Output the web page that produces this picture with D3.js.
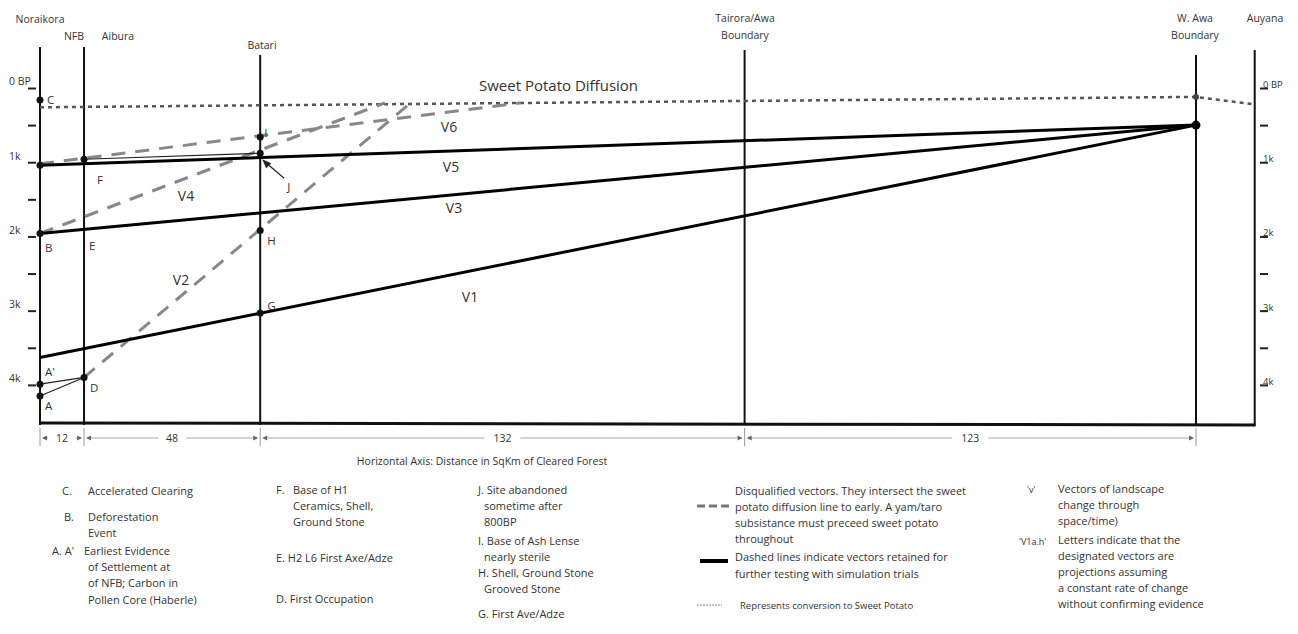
<!DOCTYPE html>
<html>
<head>
<meta charset="utf-8">
<script src="https://cdn.jsdelivr.net/npm/d3@7"></script>
<style>
body { margin: 0; background: #fff; }
text { font-family: "Open Sans", "Noto Sans", sans-serif; fill: #333; }
</style>
</head>
<body>
<div id="chart"></div>
<script>
// sites along the horizontal axis (distance in sq km of cleared forest)
var siteNames = ["Noraikora", "NFB", "Batari", "Tairora/Awa", "W. Awa", "Auyana"];
var siteDistance = [0, 12, 60, 192, 315, 331];
var segmentLengths = [12, 48, 132, 123];

// vertical axis, years BP
var yearTicks = [0, 500, 1000, 1500, 2000, 2500, 3000, 3500, 4000];
var yearTickLabels = ["0 BP", "", "1k", "", "2k", "", "3k", "", "4k"];
var rightTicks = [0, 500, 1000, 2000, 2500, 3000, 3500, 4000];
var rightTickLabels = ["0 BP", "", "1k", "2k", "", "3k", "", "4k"];

// retained vectors: start at Noraikora, all converge at W. Awa 500 BP
var vectorNames = ["V1", "V3", "V5"];
var vectorStartBP = [3630, 1960, 1040];
var convergence = [315, 500];

// disqualified vectors [distance, BP]
var dqNames = ["V2", "V4", "V6"];
var dqFrom = [[12, 3900], [0, 1960], [0, 1020]];
var dqTo = [[101, 200], [94, 200], [131, 200]];

// sweet potato diffusion
var diffusionDistance = [0, 315, 331];
var diffusionBP = [260, 120, 220];

// events
var eventNames = ["C", "", "B", "A'", "A", "F", "E", "D", "I", "J", "H", "G"];
var eventDistance = [0, 0, 0, 0, 0, 12, 12, 12, 60, 60, 60, 60];
var eventBP = [160, 1040, 1960, 3990, 4150, 960, 1940, 3900, 660, 880, 1920, 3030];
var undotted = ["E"];
var thinLinks = [["A'", "D"], ["A", "D"], ["F", "J"]];

var width = 1298, height = 634;

var svg = d3.select("#chart").append("svg")
    .attr("width", width)
    .attr("height", height);

var xScale = d3.scaleLinear().domain([0, 315]).range([40, 1196]);
var yScale = d3.scaleLinear().domain([0, 4500]).range([88, 422]);

var lineTop = [47, 47, 55, 50, 55, 50];
var baseY = 425;

// site lines
svg.selectAll(".site")
    .data(siteDistance)
    .enter().append("line")
    .attr("x1", function(d) { return xScale(d); })
    .attr("x2", function(d) { return xScale(d); })
    .attr("y1", function(d, i) { return lineTop[i]; })
    .attr("y2", baseY)
    .attr("stroke", "#111")
    .attr("stroke-width", 2);

// bottom baseline
svg.append("line")
    .attr("x1", xScale(0)).attr("x2", xScale(siteDistance[5]) + 1)
    .attr("y1", yScale(4500) + 1).attr("y2", yScale(4500) + 3)
    .attr("stroke", "#111").attr("stroke-width", 3);

// site labels
var siteLabels = [
    { t: ["Noraikora"], x: 40, y: 23 },
    { t: ["NFB"], x: 74, y: 40 },
    { t: ["Aibura"], x: 118, y: 40 },
    { t: ["Batari"], x: 262, y: 49 },
    { t: ["Tairora/Awa", "Boundary"], x: 745, y: 22 },
    { t: ["W. Awa", "Boundary"], x: 1195, y: 22 },
    { t: ["Auyana"], x: 1265, y: 22 }
];
siteLabels.forEach(function(s) {
    s.t.forEach(function(line, k) {
        svg.append("text")
            .attr("x", s.x).attr("y", s.y + k * 17)
            .attr("text-anchor", "middle")
            .style("font-size", "10.5px")
            .text(line);
    });
});

// left axis
var leftAxis = d3.axisLeft(yScale)
    .tickValues(yearTicks)
    .tickSize(8)
    .tickFormat(function(d, i) { return yearTickLabels[i]; });
svg.append("g")
    .attr("transform", "translate(36,0)")
    .call(leftAxis)
    .call(function(g) { g.select(".domain").remove(); })
    .call(function(g) {
        g.selectAll("line").attr("stroke", "#222").attr("stroke-width", 2);
        g.selectAll("text")
            .attr("text-anchor", "start")
            .attr("x", -27)
            .attr("dy", "-0.3em")
            .style("font-size", "10.5px")
            .style("font-family", "'Open Sans', sans-serif")
            .attr("fill", "#333");
    });

// right axis (Auyana)
var rightAxis = d3.axisRight(yScale)
    .tickValues(rightTicks)
    .tickSize(8)
    .tickFormat(function(d, i) { return rightTickLabels[i]; });
svg.append("g")
    .attr("transform", "translate(1260,0)")
    .call(rightAxis)
    .call(function(g) { g.select(".domain").remove(); })
    .call(function(g) {
        g.selectAll("line").attr("stroke", "#222").attr("stroke-width", 2);
        g.selectAll("text")
            .attr("x", 3)
            .attr("dy", "-0.05em")
            .style("font-size", "9.5px")
            .style("font-family", "'Open Sans', sans-serif")
            .attr("fill", "#444");
    });

// sweet potato diffusion (dotted)
var diffLine = d3.line()
    .x(function(d) { return xScale(d[0]); })
    .y(function(d) { return yScale(d[1]); });
svg.append("path")
    .datum(diffusionDistance.map(function(d, i) { return [d, diffusionBP[i]]; }))
    .attr("d", diffLine)
    .attr("fill", "none")
    .attr("stroke", "#555")
    .attr("stroke-width", 2.5)
    .attr("stroke-dasharray", "4,4");

svg.append("text")
    .attr("x", 479).attr("y", 91)
    .style("font-size", "15px")
    .attr("fill", "#222")
    .text("Sweet Potato Diffusion");

// disqualified vectors
dqNames.forEach(function(n, i) {
    svg.append("line")
        .attr("x1", xScale(dqFrom[i][0])).attr("y1", yScale(dqFrom[i][1]))
        .attr("x2", xScale(dqTo[i][0])).attr("y2", yScale(dqTo[i][1]))
        .attr("stroke", "#888")
        .attr("stroke-width", 3)
        .attr("stroke-dasharray", "14,10");
});

// retained vectors
vectorNames.forEach(function(n, i) {
    svg.append("line")
        .attr("x1", xScale(0)).attr("y1", yScale(vectorStartBP[i]))
        .attr("x2", xScale(convergence[0])).attr("y2", yScale(convergence[1]))
        .attr("stroke", "#000")
        .attr("stroke-width", 3);
});

// vector labels
var vLabelPos = { V1: [470, 302], V2: [181, 285], V3: [454, 213], V4: [186, 201], V5: [451, 172], V6: [449, 132] };
Object.keys(vLabelPos).forEach(function(k) {
    svg.append("text")
        .attr("x", vLabelPos[k][0]).attr("y", vLabelPos[k][1])
        .attr("text-anchor", "middle")
        .style("font-size", "14px")
        .attr("fill", "#222")
        .text(k);
});

// thin links
function eventPoint(name) {
    var i = eventNames.indexOf(name);
    return [xScale(eventDistance[i]), yScale(eventBP[i])];
}
thinLinks.forEach(function(l) {
    var a = eventPoint(l[0]), b = eventPoint(l[1]);
    svg.append("line")
        .attr("x1", a[0]).attr("y1", a[1])
        .attr("x2", b[0]).attr("y2", b[1])
        .attr("stroke", "#222")
        .attr("stroke-width", 1.2);
});

// event dots and labels
var labelOffset = {
    "C": [7, 4], "B": [5, 19], "A'": [5, -8], "A": [5, 14], "F": [13, 25],
    "E": [5, 18], "D": [6, 15], "I": [4, 0], "H": [7, 14], "G": [7, -3]
};
eventNames.forEach(function(n, i) {
    var cx = xScale(eventDistance[i]), cy = yScale(eventBP[i]);
    if (undotted.indexOf(n) < 0) {
        svg.append("circle").attr("cx", cx).attr("cy", cy).attr("r", 3.5).attr("fill", "#111");
    }
    if (labelOffset[n]) {
        svg.append("text")
            .attr("x", cx + labelOffset[n][0]).attr("y", cy + labelOffset[n][1])
            .style("font-size", "11.5px")
            .text(n);
    }
});

// J label with arrow
var jp = eventPoint("J");
svg.append("line")
    .attr("x1", jp[0] + 24).attr("y1", jp[1] + 25)
    .attr("x2", jp[0] + 4).attr("y2", jp[1] + 8)
    .attr("stroke", "#222").attr("stroke-width", 1.2);
svg.append("path")
    .attr("d", d3.line()([[jp[0] + 2, jp[1] + 6], [jp[0] + 11, jp[1] + 10], [jp[0] + 6, jp[1] + 15]]))
    .attr("fill", "#222");
svg.append("text")
    .attr("x", jp[0] + 27).attr("y", jp[1] + 38)
    .style("font-size", "11.5px")
    .text("J");

// convergence points at W. Awa
svg.append("circle")
    .attr("cx", xScale(convergence[0])).attr("cy", yScale(convergence[1]))
    .attr("r", 4.5).attr("fill", "#000");
svg.append("circle")
    .attr("cx", xScale(diffusionDistance[1])).attr("cy", yScale(diffusionBP[1]))
    .attr("r", 3).attr("fill", "#444");

// horizontal distance annotations
var cum = [0];
segmentLengths.forEach(function(s, i) { cum.push(cum[i] + s); });
cum.forEach(function(c) {
    svg.append("line")
        .attr("x1", xScale(c)).attr("x2", xScale(c))
        .attr("y1", 428).attr("y2", 446)
        .attr("stroke", "#999").attr("stroke-width", 1);
});
segmentLengths.forEach(function(s, i) {
    var x0 = xScale(cum[i]), x1 = xScale(cum[i + 1]);
    var mid = (x0 + x1) / 2;
    var half = String(s).length * 4 + 6;
    svg.append("text")
        .attr("x", mid).attr("y", 442)
        .attr("text-anchor", "middle")
        .style("font-size", "10.5px")
        .text(s);
    [[x0 + 3, mid - half], [mid + half, x1 - 3]].forEach(function(seg) {
        if (seg[1] > seg[0]) {
            svg.append("line")
                .attr("x1", seg[0]).attr("x2", seg[1])
                .attr("y1", 438).attr("y2", 438)
                .attr("stroke", "#aaa").attr("stroke-width", 1);
        }
    });
    // arrowheads
    [[x0 + 2, 1], [x1 - 2, -1]].forEach(function(a) {
        svg.append("path")
            .attr("d", d3.line()([[a[0], 438], [a[0] + 5 * a[1], 435.5], [a[0] + 5 * a[1], 440.5]]))
            .attr("fill", "#666");
    });
});

svg.append("text")
    .attr("x", 482).attr("y", 465)
    .attr("text-anchor", "middle")
    .style("font-size", "10.5px")
    .text("Horizontal Axis: Distance in SqKm of Cleared Forest");

// legend text blocks
var legendItems = [
    { x: 62, y: 495, t: "C." }, { x: 88, y: 495, t: "Accelerated Clearing" },
    { x: 64, y: 521, t: "B." }, { x: 88, y: 521, t: "Deforestation" }, { x: 88, y: 537, t: "Event" },
    { x: 52, y: 555, t: "A. A'" }, { x: 84, y: 555, t: "Earliest Evidence" },
    { x: 88, y: 571, t: "of Settlement at" }, { x: 88, y: 587, t: "of NFB; Carbon in" },
    { x: 88, y: 604, t: "Pollen Core (Haberle)" },
    { x: 276, y: 494, t: "F." }, { x: 293, y: 494, t: "Base of H1" },
    { x: 293, y: 510, t: "Ceramics, Shell," }, { x: 293, y: 526, t: "Ground Stone" },
    { x: 276, y: 562, t: "E.  H2 L6 First Axe/Adze" },
    { x: 276, y: 603, t: "D. First Occupation" },
    { x: 478, y: 494, t: "J. Site abandoned" }, { x: 484, y: 510, t: "sometime after" },
    { x: 484, y: 526, t: "800BP" },
    { x: 478, y: 545, t: "I.  Base of Ash Lense" }, { x: 484, y: 561, t: "nearly sterile" },
    { x: 478, y: 577, t: "H. Shell, Ground Stone" }, { x: 484, y: 593, t: "Grooved Stone" },
    { x: 478, y: 618, t: "G. First Ave/Adze" },
    { x: 735, y: 495, t: "Disqualified vectors. They intersect the sweet" },
    { x: 735, y: 511, t: "potato diffusion line to early. A yam/taro" },
    { x: 735, y: 527, t: "subsistance must preceed sweet potato" },
    { x: 735, y: 543, t: "throughout" },
    { x: 735, y: 561, t: "Dashed lines indicate vectors retained for" },
    { x: 735, y: 578, t: "further testing with simulation trials" },
    { x: 1058, y: 493, t: "Vectors of landscape" }, { x: 1058, y: 509, t: "change through" },
    { x: 1058, y: 525, t: "space/time)" },
    { x: 1058, y: 544, t: "Letters indicate that the" }, { x: 1058, y: 560, t: "designated vectors are" },
    { x: 1058, y: 576, t: "projections assuming" }, { x: 1058, y: 592, t: "a constant rate of change" },
    { x: 1058, y: 608, t: "without confirming evidence" }
];
svg.selectAll(".legtext")
    .data(legendItems)
    .enter().append("text")
    .attr("x", function(d) { return d.x; })
    .attr("y", function(d) { return d.y; })
    .style("font-size", "11px")
    .text(function(d) { return d.t; });

svg.append("text").attr("x", 740).attr("y", 609).style("font-size", "9.5px")
    .text("Represents conversion to Sweet Potato");
svg.append("text").attr("x", 1027).attr("y", 493).style("font-size", "9px").text("'v'");
svg.append("text").attr("x", 1019).attr("y", 545).style("font-size", "9px").text("'V1a.h'");

// legend symbols
svg.append("line").attr("x1", 697).attr("x2", 731).attr("y1", 506).attr("y2", 506)
    .attr("stroke", "#777").attr("stroke-width", 3).attr("stroke-dasharray", "8,4");
svg.append("line").attr("x1", 700).attr("x2", 728).attr("y1", 561).attr("y2", 561)
    .attr("stroke", "#000").attr("stroke-width", 4);
svg.append("line").attr("x1", 697).attr("x2", 722).attr("y1", 605).attr("y2", 605)
    .attr("stroke", "#888").attr("stroke-width", 1).attr("stroke-dasharray", "2,1");
</script>
</body>
</html>
